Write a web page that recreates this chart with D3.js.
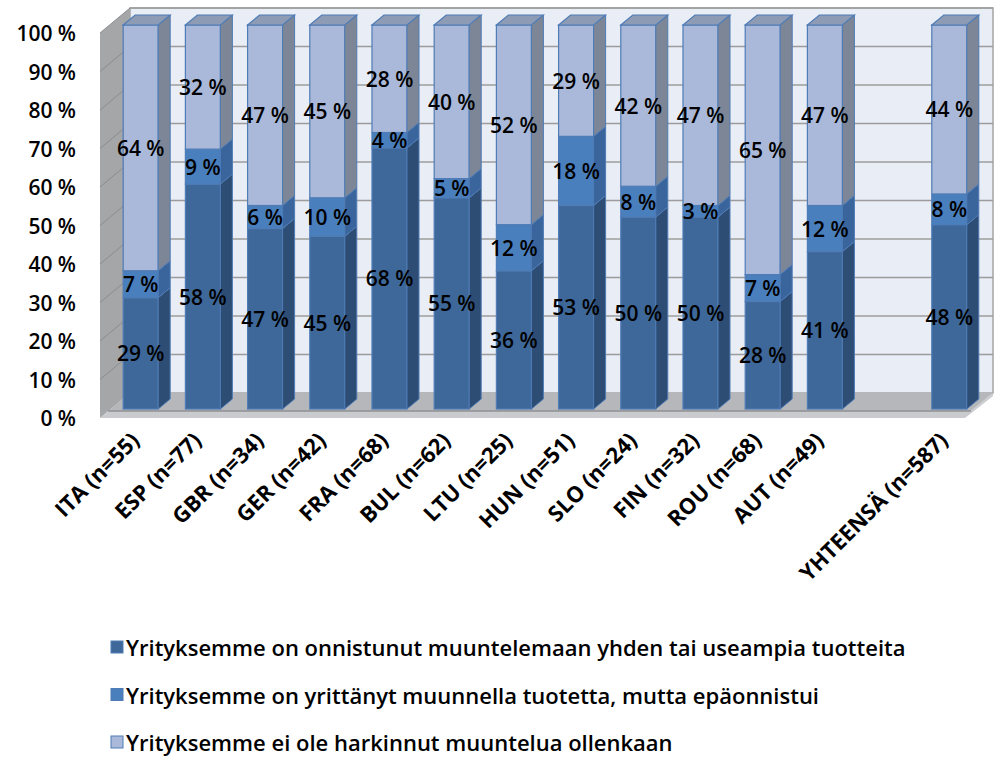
<!DOCTYPE html>
<html>
<head>
<meta charset="utf-8">
<script src="https://cdn.jsdelivr.net/npm/d3@7"></script>
<style>
  body { margin: 0; background: #fff; }
  svg text { font-family: "Open Sans", "Liberation Sans", sans-serif; fill: #000; }
</style>
</head>
<body>
<svg id="chart" width="994" height="758"></svg>
<script>
// data
const categories = ["ITA (n=55)", "ESP (n=77)", "GBR (n=34)", "GER (n=42)", "FRA (n=68)", "BUL (n=62)",
    "LTU (n=25)", "HUN (n=51)", "SLO (n=24)", "FIN (n=32)", "ROU (n=68)", "AUT (n=49)", "", "YHTEENSÄ (n=587)"];
const succeeded = [29, 58, 47, 45, 68, 55, 36, 53, 50, 50, 28, 41, 0, 48];
const failed = [7, 9, 6, 10, 4, 5, 12, 18, 8, 3, 7, 12, 0, 8];
const notConsidered = [64, 32, 47, 45, 28, 40, 52, 29, 42, 47, 65, 47, 0, 44];
const seriesNames = [
    "Yrityksemme on onnistunut muuntelemaan yhden tai useampia tuotteita",
    "Yrityksemme on yrittänyt muunnella tuotetta, mutta epäonnistui",
    "Yrityksemme ei ole harkinnut muuntelua ollenkaan"
];
const yTicks = [0, 10, 20, 30, 40, 50, 60, 70, 80, 90, 100];

const keys = ["s0", "s1", "s2"];
const rows = categories.map((c, i) => ({ cat: c, s0: succeeded[i], s1: failed[i], s2: notConsidered[i] }));
const front = ["#3e6899", "#4a7fbd", "#aab9d9"];
const side = ["#2e4d75", "#3a659c", "#7c8697"];
const topFace = "#8e9bb5";

const svg = d3.select("#chart");

// 3D wall geometry
const wallDX = 30, wallDY = -25;
const yWall = d3.scaleLinear().domain([0, 100]).range([418, 33]);
const yBar = d3.scaleLinear().domain([0, 1]).range([409, 25]);
const xScale = d3.scaleBand().domain(categories).range([96, 994]).padding(0.437);
const bw = xScale.bandwidth();
const depthX = 12, depthY = -10;

const wallLeft = 100, wallRight = 963;

// back wall
svg.append("rect")
    .attr("x", wallLeft + wallDX).attr("y", yWall(100) + wallDY)
    .attr("width", wallRight - wallLeft).attr("height", yWall(0) - yWall(100))
    .attr("fill", "#e9edf5").attr("stroke", "#a4a4a4").attr("stroke-width", 1.5);

// left wall
svg.append("polygon")
    .attr("points", [[wallLeft, yWall(100)], [wallLeft + wallDX, yWall(100) + wallDY],
        [wallLeft + wallDX, yWall(0) + wallDY], [wallLeft, yWall(0)]].join(" "))
    .attr("fill", "#a5a6a8");

// gridlines
const grid = svg.append("g");
grid.selectAll(".gb").data(yTicks.slice(1)).enter().append("line")
    .attr("x1", wallLeft + wallDX).attr("x2", wallRight + wallDX)
    .attr("y1", d => yWall(d) + wallDY).attr("y2", d => yWall(d) + wallDY)
    .attr("stroke", "#9c9c9c").attr("stroke-width", 1.5);
grid.selectAll(".gl").data(yTicks.slice(1)).enter().append("line")
    .attr("x1", wallLeft).attr("x2", wallLeft + wallDX)
    .attr("y1", d => yWall(d)).attr("y2", d => yWall(d) + wallDY)
    .attr("stroke", "#8c8c8c").attr("stroke-width", 1);

// floor
const floorFront = yWall(0) - 7;
svg.append("polygon")
    .attr("points", [[wallLeft + 8, floorFront], [wallLeft + wallDX, yWall(0) + wallDY],
        [wallRight + wallDX, yWall(0) + wallDY], [wallRight + 8, floorFront]].join(" "))
    .attr("fill", "#b5b7ba");
svg.append("polygon")
    .attr("points", [[wallLeft, yWall(0)], [wallLeft + 8, floorFront], [wallRight + 8, floorFront],
        [wallRight + wallDX, yWall(0) + wallDY], [wallRight + wallDX, yWall(0) + wallDY + 3], [wallRight + 2, yWall(0)]].join(" "))
    .attr("fill", "#c9cbce");
svg.append("line")
    .attr("x1", wallLeft + 8).attr("x2", wallRight + 8)
    .attr("y1", floorFront).attr("y2", floorFront)
    .attr("stroke", "#8f9194").attr("stroke-width", 1.5);

// stacked bars (normalised to 100 %)
const stacked = d3.stack().keys(keys).offset(d3.stackOffsetExpand)(rows.filter(r => r.cat !== ""));

const barsG = svg.append("g");
stacked.forEach((layer, si) => {
    layer.forEach(d => {
        const x = xScale(d.data.cat);
        const y0 = yBar(d[0]), y1 = yBar(d[1]);
        const g = barsG.append("g");
        g.append("rect")
            .attr("x", x).attr("y", y1).attr("width", bw).attr("height", y0 - y1)
            .attr("fill", front[si]).attr("stroke", "#4f7cb6").attr("stroke-width", 1.2);
        g.append("polygon")
            .attr("points", [[x + bw, y0], [x + bw + depthX, y0 + depthY], [x + bw + depthX, y1 + depthY], [x + bw, y1]].join(" "))
            .attr("fill", side[si]).attr("stroke", "#4f7cb6").attr("stroke-width", 1);
        if (si === keys.length - 1) {
            g.append("polygon")
                .attr("points", [[x, y1], [x + depthX, y1 + depthY], [x + bw + depthX, y1 + depthY], [x + bw, y1]].join(" "))
                .attr("fill", topFace).attr("stroke", "#4f7cb6").attr("stroke-width", 1.2);
        }
    });
});

// data labels
stacked.forEach(layer => {
    barsG.selectAll(null).data(layer).enter().append("text")
        .attr("x", d => xScale(d.data.cat) + bw / 2)
        .attr("y", d => (yBar(d[0]) + yBar(d[1])) / 2)
        .attr("text-anchor", "middle")
        .attr("dominant-baseline", "central")
        .attr("font-size", 21)
        .attr("font-weight", 600)
        .text(d => d.data[layer.key] + " %");
});

// y axis labels
svg.append("g").selectAll("text").data(yTicks).enter().append("text")
    .attr("x", 76).attr("y", d => yWall(d))
    .attr("text-anchor", "end").attr("dominant-baseline", "central")
    .attr("font-size", 21)
    .attr("font-weight", 600)
    .text(d => d + " %");

// x axis labels
svg.append("g").selectAll("text").data(categories.filter(c => c !== "")).enter().append("text")
    .attr("transform", d => `translate(${xScale(d) + bw / 2},${442}) rotate(-45)`)
    .attr("text-anchor", "end")
    .attr("font-size", 22)
    .attr("font-weight", 700)
    .text(d => d);

// legend
const legend = svg.append("g").selectAll("g").data(seriesNames).enter().append("g")
    .attr("transform", (d, i) => `translate(111,${647 + i * 47.5})`);
legend.append("rect")
    .attr("x", 0).attr("y", -6).attr("width", 12).attr("height", 12)
    .attr("fill", (d, i) => front[i]).attr("stroke", "#4f7cb6");
legend.append("text")
    .attr("x", 15).attr("y", 0)
    .attr("dominant-baseline", "central")
    .attr("font-size", 22)
    .attr("font-weight", 600)
    .text(d => d);
</script>
</body>
</html>
